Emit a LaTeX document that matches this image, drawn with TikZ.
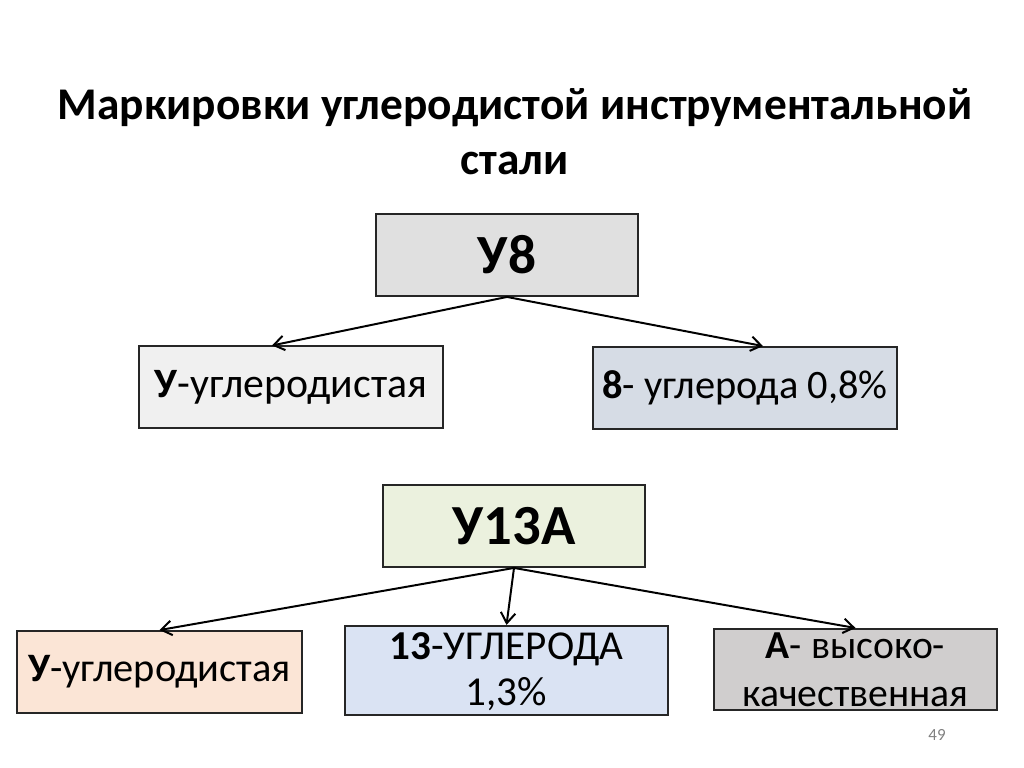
\documentclass[tikz,border=0pt]{standalone}
\usepackage{fontspec}
\setmainfont{Carlito}
\usepackage{tikz}
\usetikzlibrary{positioning,calc,arrows.meta}
\definecolor{topgray}{HTML}{E0E0E0}
\definecolor{lightgray}{HTML}{F0F0F0}
\definecolor{bluegray}{HTML}{D6DCE5}
\definecolor{palegreen}{HTML}{EBF1DE}
\definecolor{peach}{HTML}{FBE5D6}
\definecolor{paleblue}{HTML}{DAE3F3}
\definecolor{darkgray}{HTML}{D0CECE}

\begin{document}
\begin{tikzpicture}[x=0.0248cm, y=-0.0248cm,
  gradebox/.style={draw=black!85, line width=1.4pt, inner sep=2pt, align=center},
  link/.style={line width=1.4pt, -{Straight Barb[length=2.6mm, width=3.6mm]}}]
  \useasboundingbox (0,0) rectangle (1024,767);

  % Title
  \node[font=\bfseries\fontsize{32}{39}\selectfont, align=center] (title) at (515,132)
    {Маркировки углеродистой инструментальной\\стали};

  % Grade U8
  \node[gradebox, fill=topgray, minimum width=6.5cm, minimum height=2.03cm,
        font=\bfseries\fontsize{39}{46}\selectfont] (u8) at (507,255) {У8};
  \node[gradebox, fill=lightgray, minimum width=7.54cm, minimum height=2.01cm,
        font=\fontsize{29.5}{35}\selectfont] (u8a) at (291,387) {{\bfseries У}-углеродистая};
  \node[gradebox, fill=bluegray, minimum width=7.54cm, minimum height=2.03cm,
        font=\fontsize{28.5}{34}\selectfont] (u8b) at (745,388) {{\bfseries 8}- углерода 0,8\%};
  \draw[link] (u8.south) -- ($(u8a.north)+(-19,0)$);
  \draw[link] (u8.south) -- ($(u8b.north)+(18,0)$);

  % Grade U13A
  \node[gradebox, fill=palegreen, minimum width=6.5cm, minimum height=2.03cm,
        font=\bfseries\fontsize{40}{48}\selectfont] (u13) at (514,526) {У13А};
  \node[gradebox, fill=peach, minimum width=7.07cm, minimum height=2.03cm,
        font=\fontsize{28.5}{34}\selectfont] (u13a) at (159.5,672) {{\bfseries У}-углеродистая};
  \node[gradebox, fill=paleblue, minimum width=8.01cm, minimum height=2.21cm,
        text height=54.2pt, text depth=4.4pt,
        font=\fontsize{29}{30}\selectfont] (u13b) at (506.5,670.5)
        {{\bfseries 13}-УГЛЕРОДА\\[3pt]1,3\%};
  \node[gradebox, fill=darkgray, minimum width=7.02cm, minimum height=2.01cm,
        font=\fontsize{28}{29.5}\selectfont] (u13c) at (855.5,669.5) {{\bfseries А}- высоко-\\[4.5pt]качественная};
  \draw[link] (u13.south) -- (u13a.north);
  \draw[link] (u13.south) -- (u13b.north);
  \draw[link] (u13.south) -- (u13c.north);

  % Page number
  \node[text=gray, font=\fontsize{12}{14}\selectfont] (pnum) at (937,735) {49};
\end{tikzpicture}
\end{document}
